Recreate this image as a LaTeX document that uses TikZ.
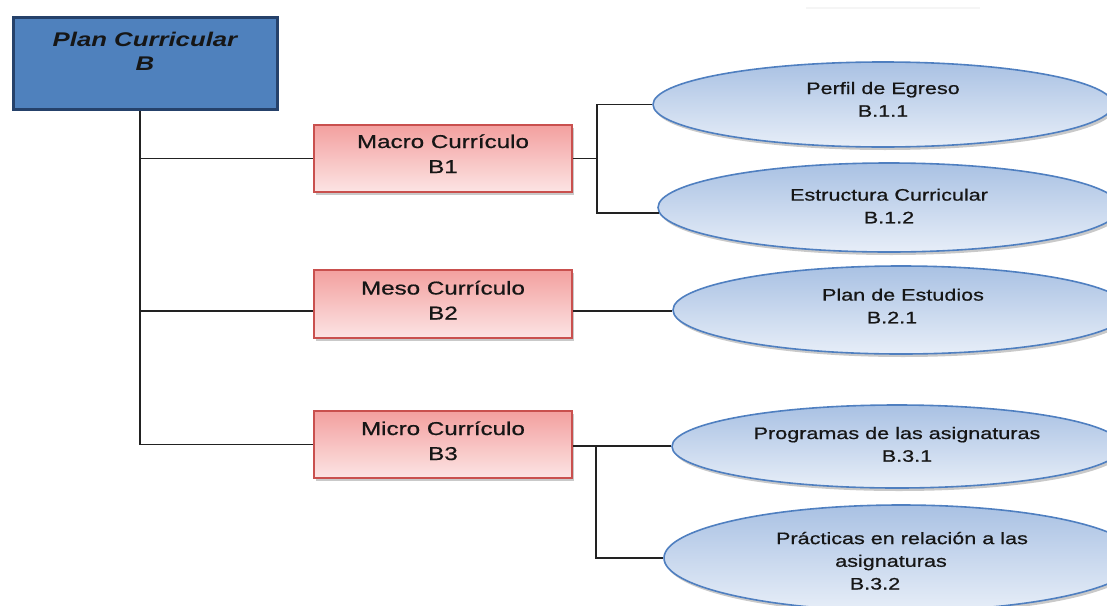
\documentclass[tikz,border=0pt]{standalone}
\usepackage{fontspec}
\setmainfont{Liberation Sans}[FakeStretch=1.3]
\newfontfamily\labelfont{Liberation Sans}[FakeStretch=1.3, FakeBold=0.7]
\usetikzlibrary{shapes.geometric,shadows}

\definecolor{planfill}{HTML}{4F81BD}
\definecolor{planedge}{HTML}{25416A}
\definecolor{redtop}{HTML}{F3A09F}
\definecolor{redbot}{HTML}{FCE4E4}
\definecolor{rededge}{HTML}{C9504E}
\definecolor{bluetop}{HTML}{A9C1E3}
\definecolor{bluebot}{HTML}{E7EEF8}
\definecolor{blueedge}{HTML}{4F7FC0}
\definecolor{inkcol}{HTML}{161616}
\definecolor{linecol}{HTML}{222222}

\begin{document}
\begin{tikzpicture}[x=1pt,y=-1pt,
  softshadow/.style={drop shadow={shadow xshift=2pt, shadow yshift=-3pt, opacity=.3, fill=black!70}},
  planbox/.style={rectangle, draw=planedge, line width=3pt, fill=planfill,
    minimum width=264pt, minimum height=92pt, inner sep=0pt},
  levelbox/.style={rectangle, draw=rededge, line width=1.5pt, top color=redtop, bottom color=redbot,
    minimum width=258pt, minimum height=67pt, inner sep=0pt, softshadow},
  itembox/.style={ellipse, draw=blueedge, line width=1.6pt, top color=bluetop, bottom color=bluebot,
    inner sep=0pt, softshadow},
  planlabel/.style={anchor=base, align=center, text=inkcol, inner sep=0pt,
    font=\fontsize{19.8}{24.7}\selectfont\bfseries\itshape},
  levellabel/.style={anchor=base, align=center, text=inkcol, inner sep=0pt,
    font=\labelfont\fontsize{18.6}{25}\selectfont},
  itemlabel/.style={anchor=base, align=center, text=inkcol, inner sep=0pt,
    font=\labelfont\fontsize{16.6}{22.7}\selectfont},
  conn/.style={draw=linecol, line width=1.7pt}
]
\useasboundingbox (0,0) rectangle (1107,605);
\clip (0,0) rectangle (1107,605);

% faint rule near the top edge
\draw[black, opacity=.04, line width=2pt] (806,8) -- (980,8);

% root (labels are placed by the baseline of their last line)
\node[planbox] (plan) at (145,63.5) {};
\node[planlabel] (planT) at (145,70.7) {Plan Curricular\\B};

% curriculum levels
\node[levelbox] (macro) at (443,158.5) {};
\node[levellabel] (macroT) at (443,173) {Macro Currículo\\B1};
\node[levelbox, minimum height=68pt] (meso) at (443,304) {};
\node[levellabel] (mesoT) at (443,319.5) {Meso Currículo\\B2};
\node[levelbox] (micro) at (443,444.5) {};
\node[levellabel] (microT) at (443,460) {Micro Currículo\\B3};

% components
\node[itembox, minimum width=460pt, minimum height=85pt] (e1) at (883,104.5) {};
\node[itemlabel] (e1T) at (883,116.7) {Perfil de Egreso\\B.1.1};
\node[itembox, minimum width=462pt, minimum height=89pt] (e2) at (889,207.5) {};
\node[itemlabel] (e2T) at (889,223.3) {Estructura Curricular\\B.1.2};
\node[itembox, minimum width=456pt, minimum height=88pt] (e3) at (901,310) {};
\node[itemlabel] (e3T) at (903,323.3) {Plan de Estudios\\\hspace*{-22pt}B.2.1};
\node[itembox, minimum width=450pt, minimum height=83pt] (e4) at (897,446.5) {};
\node[itemlabel] (e4T) at (897,461.7) {Programas de las asignaturas\\\hspace*{20pt}B.3.1};
\node[itembox, minimum width=474pt, minimum height=106pt] (e5) at (901,558) {};
\node[itemlabel] (e5T) at (902,589.5) {Prácticas en relación a las\\\hspace*{-22pt}asignaturas\\\hspace*{-54pt}B.3.2};

% connector joints
\coordinate (trunk) at (140,0);
\coordinate (fork1) at (597,0);
\coordinate (fork2) at (596,0);
\coordinate (mesoL) at ([yshift=-7pt]meso.west);
\coordinate (mesoR) at ([yshift=-7pt]meso.east);
\coordinate (e2port) at ([yshift=-5.5pt,xshift=1.5pt]e2.west);
\coordinate (microR) at ([yshift=-1.5pt]micro.east);

% trunk and level branches
\draw[conn] (plan.south -| trunk) -- (trunk |- micro.west) -- (micro.west);
\draw[conn] (trunk |- macro.west) -- (macro.west);
\draw[conn] (trunk |- mesoL) -- (mesoL);

% macro branches
\draw[conn] (macro.east) -- (macro.east -| fork1);
\draw[conn] (e1.west) -- (e1.west -| fork1) -- (e2port -| fork1) -- (e2port);

% meso branch
\draw[conn] (mesoR) -- (mesoR -| e3.west);

% micro branches
\draw[conn] (microR) -- (microR -| e4.west);
\draw[conn] (microR -| fork2) -- (e5.west -| fork2) -- (e5.west);
\end{tikzpicture}
\end{document}
